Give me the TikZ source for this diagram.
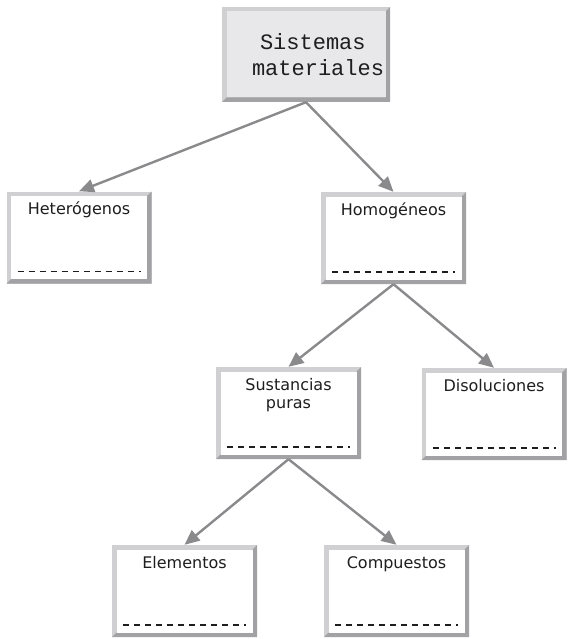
\documentclass[tikz,border=0pt]{standalone}
\usepackage{fontspec}
\usepackage{tikz}
\usetikzlibrary{arrows.meta}

\newfontfamily\etiqfont{DejaVu Sans}
\newfontfamily\monofont{Liberation Mono}

\definecolor{bordeclaro}{HTML}{D0D0D2}
\definecolor{bordeoscuro}{HTML}{A2A2A4}
\definecolor{fondotitulo}{HTML}{E8E8EA}
\definecolor{flechagris}{HTML}{8A8A8C}
\definecolor{texto}{HTML}{1E1E1E}

% marco biselado, para usar dentro de path picture
\newcommand{\marco}[1]{%
  \path (path picture bounding box.south west) coordinate (sw)
        (path picture bounding box.north east) coordinate (ne)
        (sw -| ne) coordinate (se);
  \fill[bordeclaro] (sw) rectangle (ne);
  \fill[bordeoscuro] (sw) -- (se) -- (ne) -- ([shift={(-4.5pt,-4.5pt)}]ne)
    -- ([shift={(-4.5pt,4.5pt)}]se) -- ([shift={(4.5pt,4.5pt)}]sw) -- cycle;
  \fill[#1] ([shift={(4.5pt,4.5pt)}]sw) rectangle ([shift={(-4.5pt,-4.5pt)}]ne);
}

\tikzset{
  caja/.style={rectangle, inner sep=0pt, text width=145pt, minimum height=92pt,
    text height=23pt, text depth=69pt, align=center, text=texto,
    font=\etiqfont\fontsize{16}{18}\selectfont,
    path picture={\marco{white}
      \draw[texto, line width=1.1pt, dash pattern=on 6pt off 5pt]
        ([shift={(11pt,12pt)}]sw) -- ([shift={(-11pt,12pt)}]se);}},
  titulo/.style={rectangle, inner xsep=14pt, inner ysep=0pt, text width=140pt,
    text height=43pt, text depth=52pt, align=left, text=texto,
    font=\monofont\fontsize{22}{26}\selectfont,
    path picture={\marco{fondotitulo}}},
  flecha/.style={draw=flechagris, line width=2.4pt, -{Triangle[length=15pt,width=13pt]}}
}

\begin{document}
\begin{tikzpicture}[x=1pt, y=-1pt]
  \useasboundingbox (0,0) rectangle (567,639);

  \node[titulo] (sistemas) at (306,54.5)
    {\hspace*{24pt}\mbox{Sistemas}\\\hspace*{16pt}\mbox{materiales}};
  \node[caja] (hetero) at (79,237.5) {Heterógenos};
  \node[caja] (homo) at (393.5,238) {Homogéneos};
  \node[caja] (sustancias) at (288.5,413) {Sustancias\\puras};
  \node[caja] (disol) at (494,414) {Disoluciones};
  \node[caja] (elem) at (184.5,591) {Elementos};
  \node[caja] (comp) at (396.5,591) {Compuestos};

  \draw[flecha] (sistemas.south) -- (hetero.north);
  \draw[flecha] (sistemas.south) -- (homo.north);
  \draw[flecha] (homo.south) -- (sustancias.north);
  \draw[flecha] (homo.south) -- (disol.north);
  \draw[flecha] (sustancias.south) -- (elem.north);
  \draw[flecha] (sustancias.south) -- (comp.north);
\end{tikzpicture}
\end{document}
